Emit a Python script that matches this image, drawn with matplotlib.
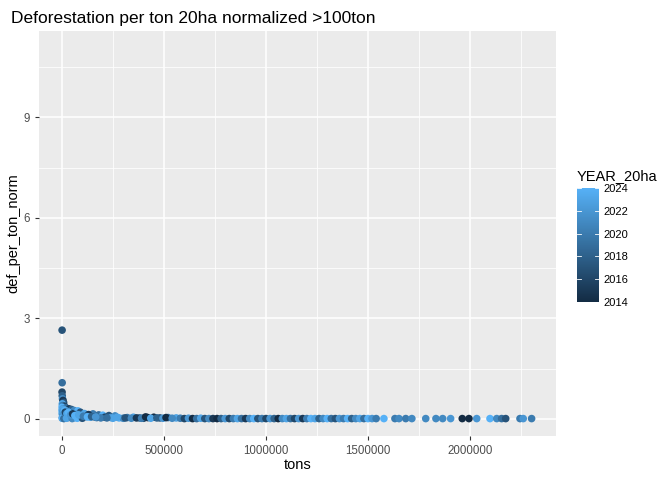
import matplotlib
matplotlib.use("Agg")
import matplotlib.pyplot as plt
from matplotlib.colors import LinearSegmentedColormap, Normalize

plt.rcParams['font.family'] = ['Liberation Sans', 'DejaVu Sans']

# ---- data ----
# cluster near zero tons
tons_a = [500, 800, 300, 1200, 2500, 5000, 8000, 1500, 3000, 12000, 600, 20000, 4000,
          35000, 47000, 15000, 60000, 78000, 25000, 90000, 2000, 10000, 40000, 110000,
          152000, 130000, 70000, 180000, 200000, 230000, 260000, 900, 6000, 18000,
          30000, 55000, 85000, 120000, 160000, 2200, 7000, 14000, 28000, 45000, 65000,
          95000, 140000, 170000, 210000, 240000, 280000, 320000, 350000, 380000, 420000,
          450000, 480000, 520000, 560000, 1000, 3500, 9000, 22000, 50000, 75000, 100000,
          190000, 250000, 300000, 400000, 700, 1800, 4500, 11000, 16000, 24000, 33000,
          42000, 52000, 63000, 82000, 105000, 125000, 145000, 165000, 220000, 270000,
          310000, 340000, 365000, 390000, 410000, 435000, 465000, 495000, 510000, 540000]
def_a = [2.65, 1.08, 0.80, 0.69, 0.60, 0.55, 0.49, 0.45, 0.40, 0.38, 0.35, 0.33, 0.30,
         0.30, 0.28, 0.26, 0.25, 0.24, 0.22, 0.20, 0.20, 0.18, 0.18, 0.16,
         0.15, 0.13, 0.14, 0.12, 0.11, 0.10, 0.09, 0.15, 0.12, 0.10,
         0.09, 0.08, 0.07, 0.07, 0.06, 0.05, 0.06, 0.05, 0.04, 0.05, 0.04,
         0.04, 0.05, 0.04, 0.05, 0.04, 0.03, 0.04, 0.05, 0.03, 0.04,
         0.05, 0.03, 0.04, 0.03, 0.02, 0.02, 0.01, 0.02, 0.01, 0.02, 0.02,
         0.03, 0.02, 0.02, 0.02, 0.25, 0.28, 0.22, 0.24, 0.20, 0.16, 0.20,
         0.12, 0.15, 0.10, 0.12, 0.08, 0.06, 0.07, 0.06, 0.03, 0.05,
         0.03, 0.02, 0.03, 0.02, 0.06, 0.02, 0.03, 0.02, 0.04, 0.02]
year_a = [2017, 2019, 2016, 2018, 2021, 2015, 2017, 2023, 2020, 2016, 2024, 2019, 2022,
          2015, 2018, 2023, 2021, 2024, 2020, 2017, 2024, 2022, 2016, 2023,
          2020, 2015, 2022, 2019, 2024, 2017, 2021, 2023, 2019, 2024,
          2021, 2024, 2018, 2022, 2016, 2024, 2020, 2023, 2018, 2022, 2024,
          2021, 2023, 2019, 2016, 2022, 2024, 2020, 2023, 2018, 2014,
          2014, 2017, 2020, 2023, 2022, 2024, 2019, 2023, 2021, 2024, 2017,
          2020, 2023, 2021, 2016, 2024, 2023, 2022, 2024, 2016, 2023, 2024,
          2022, 2015, 2024, 2023, 2020, 2024, 2018, 2022, 2019, 2023,
          2017, 2021, 2015, 2020, 2014, 2023, 2018, 2022, 2014, 2021]

# continuous band along zero
tons_b = [580000, 600000, 620000, 640000, 660000, 680000, 700000, 720000, 740000,
          760000, 780000, 800000, 820000, 840000, 860000, 880000, 900000, 920000,
          940000, 960000, 980000, 1000000, 1020000, 1040000, 1060000, 1080000,
          1100000, 1120000, 1140000, 1160000, 1180000, 1200000, 1220000, 1240000,
          1260000, 1280000, 1300000, 1320000, 1340000, 1360000, 1380000, 1400000,
          1420000, 1440000, 1460000, 1480000, 1500000, 1520000, 1540000]
def_b = [0.02, 0.01, 0.02, 0.01, 0.01, 0.02, 0.01, 0.01, 0.01,
         0.01, 0.01, 0.01, 0.01, 0.01, 0.01, 0.01, 0.01, 0.01,
         0.01, 0.01, 0.01, 0.01, 0.01, 0.01, 0.01, 0.01,
         0.01, 0.01, 0.01, 0.01, 0.01, 0.01, 0.01, 0.01,
         0.01, 0.01, 0.01, 0.01, 0.01, 0.01, 0.01, 0.01,
         0.01, 0.01, 0.01, 0.01, 0.01, 0.01, 0.01]
year_b = [2020, 2016, 2022, 2014, 2019, 2023, 2017, 2021, 2015,
          2014, 2018, 2022, 2016, 2020, 2023, 2019, 2015, 2021,
          2024, 2017, 2020, 2016, 2022, 2018, 2014, 2021,
          2023, 2019, 2016, 2022, 2015, 2020, 2024, 2023,
          2018, 2021, 2024, 2019, 2017, 2022, 2020, 2024,
          2018, 2021, 2023, 2019, 2024, 2022, 2020]

# sparse tail
tons_c = [1578000, 1632000, 1652000, 1685000, 1715000, 1783000, 1833000, 1866000,
          1905000, 1962000, 1995000, 2033000, 2098000, 2131000, 2155000, 2175000,
          2245000, 2261000, 2302000]
def_c = [0.01] * 19
year_c = [2024, 2020, 2021, 2020, 2021, 2021, 2021, 2021, 2022, 2014, 2014, 2022,
          2024, 2021, 2019, 2017, 2020, 2022, 2020]

tons = tons_a + tons_b + tons_c
def_per_ton = def_a + def_b + def_c
years = year_a + year_b + year_c

x_ticks = [0, 500000, 1000000, 1500000, 2000000]
y_ticks = [0, 3, 6, 9]
cbar_ticks = [2014, 2016, 2018, 2020, 2022, 2024]

# ---- plot ----
cmap = LinearSegmentedColormap.from_list("gg", ["#132B43", "#56B1F7"])
norm = Normalize(vmin=2014, vmax=2024)

fig = plt.figure(figsize=(6.72, 4.8), dpi=100)
ax = fig.add_axes([39/672, 1-436/480, (556-39)/672, (436-31)/480])
ax.set_facecolor("#EBEBEB")
ax.scatter(tons, def_per_ton, c=years, cmap=cmap, norm=norm, s=30, linewidths=0, zorder=3)

ax.set_xlim(-112745, 2421568)
ax.set_ylim(-0.51, 11.58)
ax.set_xticks(x_ticks)
ax.set_xticklabels([str(v) for v in x_ticks])
ax.set_yticks(y_ticks)
ax.set_yticks([1.5, 4.5, 7.5, 10.5], minor=True)
ax.set_xticks([250000, 750000, 1250000, 1750000, 2250000], minor=True)
ax.grid(which='major', color='white', linewidth=1.1, zorder=0)
ax.grid(which='minor', color='white', linewidth=0.55, zorder=0)
ax.set_axisbelow(True)
for s in ax.spines.values():
    s.set_visible(False)
ax.tick_params(which='major', length=3, color='#333333', labelsize=8.3, labelcolor='#4D4D4D', width=0.8)
ax.tick_params(which='minor', length=0)
ax.set_xlabel("tons", fontsize=10.5, labelpad=1)
ax.set_ylabel("def_per_ton_norm", fontsize=10.5, labelpad=2)
ax.set_title("Deforestation per ton 20ha normalized >100ton", fontsize=12.5, loc='left', x=-0.055, pad=6)

cax = fig.add_axes([577/672, 1-302/480, 22/672, (302-188)/480])
sm = plt.cm.ScalarMappable(cmap=cmap, norm=norm)
cb = fig.colorbar(sm, cax=cax, ticks=cbar_ticks)
cb.outline.set_visible(False)
cax.tick_params(length=0, labelsize=8, labelcolor='black', pad=3)
for t in cbar_ticks:
    cax.plot([0, 0.2], [t, t], color='white', lw=0.6, transform=cax.get_yaxis_transform())
    cax.plot([0.8, 1.0], [t, t], color='white', lw=0.6, transform=cax.get_yaxis_transform())
fig.text(577/672, 1-176/480, "YEAR_20ha", fontsize=10.5, va='center', ha='left')

fig.savefig("out.png", dpi=100)
